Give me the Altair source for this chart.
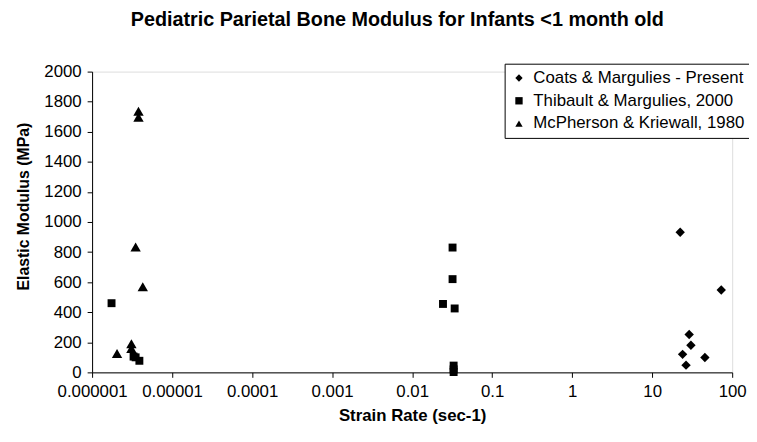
import altair as alt
import pandas as pd

series = ["Coats & Margulies - Present", "Thibault & Margulies, 2000", "McPherson & Kriewall, 1980"]

coats_rate = [22.4, 73, 29, 30.5, 24, 45.6, 26.5]
coats_mod = [932, 548, 252, 180, 120, 99, 48]

thib_rate = [1.75e-6, 3.3e-6, 3.5e-6, 3.9e-6, 0.032, 0.032, 0.0243, 0.034, 0.033, 0.033, 0.033]
thib_mod = [460, 105, 100, 77, 830, 620, 455, 425, 45, 20, 2]

mcp_rate = [3.8e-6, 3.8e-6, 3.5e-6, 4.3e-6, 3.1e-6, 3.1e-6, 2.05e-6]
mcp_mod = [1737, 1697, 833, 570, 190, 158, 125]

x_ticks = [0.000001, 0.00001, 0.0001, 0.001, 0.01, 0.1, 1, 10, 100]
y_ticks = [0, 200, 400, 600, 800, 1000, 1200, 1400, 1600, 1800, 2000]

rows = []
for name, xs, ys in [(series[0], coats_rate, coats_mod),
                     (series[1], thib_rate, thib_mod),
                     (series[2], mcp_rate, mcp_mod)]:
    for a, b in zip(xs, ys):
        rows.append({"series": name, "rate": a, "mod": b})
df = pd.DataFrame(rows)

FONT = "Liberation Sans"

x_enc = alt.X("rate:Q",
              scale=alt.Scale(type="log", domain=[1e-6, 100], nice=False),
              axis=alt.Axis(values=x_ticks, labelExpr="format(datum.value, '.6~f')",
                            title="Strain Rate (sec-1)", grid=False, tickSize=5,
                            labelPadding=6, titlePadding=9, domainColor="black",
                            tickColor="black", labelColor="black", titleColor="black",
                            labelFont=FONT, titleFont=FONT, labelFontSize=17,
                            titleFontSize=17, titleFontWeight="bold", labelFlush=False))
y_enc = alt.Y("mod:Q",
              scale=alt.Scale(domain=[0, 2000], nice=False),
              axis=alt.Axis(values=y_ticks, format="d", title="Elastic Modulus (MPa)",
                            grid=False, tickSize=5, labelPadding=6, titlePadding=12,
                            domainColor="black", tickColor="black", labelColor="black",
                            titleColor="black", labelFont=FONT, titleFont=FONT,
                            labelFontSize=17, titleFontSize=16, titleFontWeight="bold",
                            titleY=136))
shape_enc = alt.Shape("series:N",
                      scale=alt.Scale(domain=series, range=["diamond", "square", "triangle-up"]),
                      legend=alt.Legend(title=None, orient="none", legendX=417, legendY=-8,
                                        strokeColor="black", fillColor="white", padding=6,
                                        labelFont=FONT, labelFontSize=17, labelColor="black",
                                        labelLimit=400,
                                        symbolSize=55, symbolFillColor="black",
                                        symbolStrokeColor="black", rowPadding=5,
                                        labelOffset=6, cornerRadius=0))

sizes = [90, 64, 110]
layers = []
for name, sz in zip(series, sizes):
    layers.append(
        alt.Chart(df).transform_filter(alt.datum.series == name)
        .mark_point(filled=True, opacity=1, color="black", size=sz)
        .encode(x=x_enc, y=y_enc, shape=shape_enc)
    )

chart = alt.layer(*layers).properties(
    width=647, height=304,
    title=alt.TitleParams("Pediatric Parietal Bone Modulus for Infants <1 month old",
                          font=FONT, fontSize=20, fontWeight="bold", color="black",
                          anchor="middle", dx=-15, offset=33),
    padding={"left": 85, "top": 62, "right": 17, "bottom": 60},
    autosize="none",
).configure_view(stroke=None).configure(background="white")

chart.save("out.html", embed_options={"renderer": "svg", "actions": False})
